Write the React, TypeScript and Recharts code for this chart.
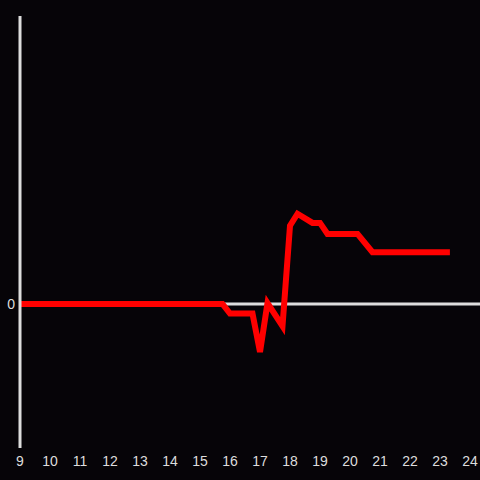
import React from "react";
import { LineChart, Line, XAxis, YAxis, ReferenceLine } from "recharts";

// hours of the day (x) and measured value (y)
const hours = [9, 15.75, 16, 16.75, 17, 17.25, 17.75, 18, 18.25, 18.75, 19, 19.25, 20.25, 20.75, 23.33];
const values = [0, 0, -2, -2, -10, 0.2, -4.6, 16.3, 18.8, 16.9, 16.9, 14.6, 14.6, 10.8, 10.8];
const hourTicks = [9, 10, 11, 12, 13, 14, 15, 16, 17, 18, 19, 20, 21, 22, 23, 24];
const valueTicks = [0];

const data = hours.map((h, i) => ({ hour: h, value: values[i] }));

export default function App() {
  return (
    <div style={{ position: "absolute", left: 0, top: 0, width: 480, height: 480, background: "#060408" }}>
      <LineChart
        width={480}
        height={480}
        data={data}
        margin={{ top: 16, right: 0, bottom: 0, left: 0 }}
      >
        <XAxis
          dataKey="hour"
          type="number"
          domain={[9, 24.3333]}
          ticks={hourTicks}
          axisLine={false}
          tickLine={false}
          height={32}
          interval={0}
          tick={{ fill: "#dddddd", fontSize: 14, fontFamily: "Liberation Sans" }}
        />
        <YAxis
          type="number"
          domain={[-30, 60]}
          ticks={valueTicks}
          width={20}
          tickLine={false}
          tickSize={0}
          tickMargin={5}
          axisLine={{ stroke: "#dddddd", strokeWidth: 3 }}
          tick={{ fill: "#dddddd", fontSize: 14, fontFamily: "Liberation Sans" }}
        />
        <ReferenceLine y={0} stroke="#dddddd" strokeWidth={3} />
        <Line
          type="linear"
          dataKey="value"
          stroke="#ff0000"
          strokeWidth={6}
          dot={false}
          isAnimationActive={false}
        />
      </LineChart>
    </div>
  );
}
